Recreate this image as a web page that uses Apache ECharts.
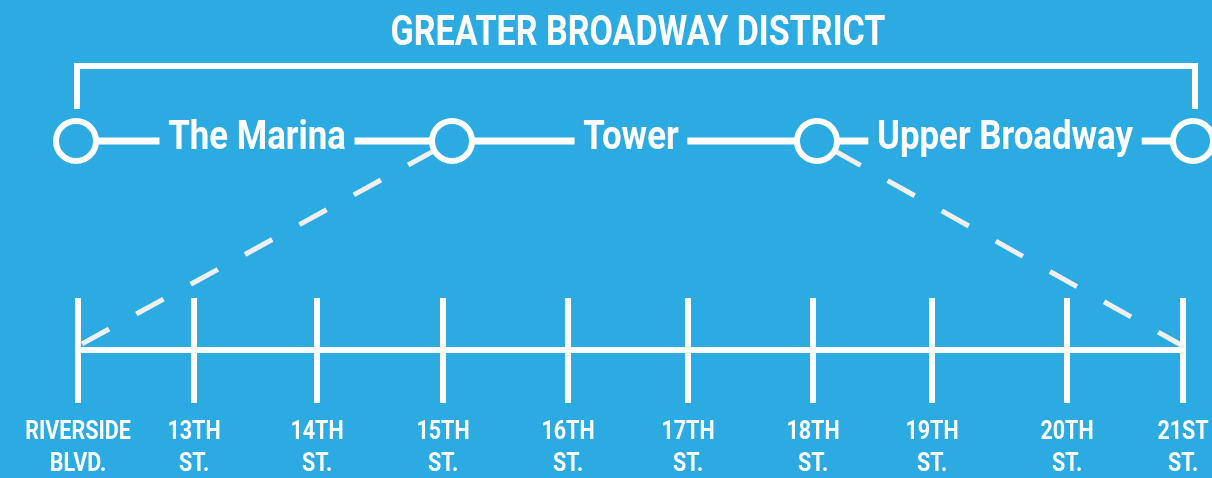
<!DOCTYPE html>
<html>
<head>
<meta charset="utf-8">
<title>Greater Broadway District</title>
<script src="https://cdn.jsdelivr.net/npm/echarts@6/dist/echarts.min.js"></script>
<style>
  html, body { margin: 0; padding: 0; background: #2babe2; }
  #chart { width: 1212px; height: 478px; }
</style>
</head>
<body>
<div id="chart"></div>
<script>
// streets along the bottom timeline, with their position along the street
const streetNames = ['RIVERSIDE\nBLVD.', '13TH\nST.', '14TH\nST.', '15TH\nST.', '16TH\nST.',
  '17TH\nST.', '18TH\nST.', '19TH\nST.', '20TH\nST.', '21ST\nST.'];
const streetPos = [78, 194, 317, 443, 568, 688, 813, 932, 1067, 1183];

// district boundaries (stations) and district names on the upper route
const stationPos = [76, 452, 817, 1193];
const districtNames = ['The Marina', 'Tower', 'Upper Broadway'];
const districtPos = [257, 631, 1005];

// which boundary station maps to which street (dashed connectors)
const connectors = [[1, 0], [2, 9]];

const BG = '#2babe2';
const FONT = 'Roboto, "Open Sans", sans-serif';

// vertical levels of the drawing
const titleY = 34;
const bracketY = 66;
const bracketFootY = 109;
const routeY = 141;
const streetY = 350;
const connectorEndY = 346;
const labelY = 449;

const chart = echarts.init(document.getElementById('chart'));

// text drawn narrower than the font, the original uses a condensed face
const textSeries = (data, fontSize, squeeze, extra) => ({
  type: 'custom',
  data: data,
  renderItem: function (params, api) {
    const p = api.coord([api.value(0), api.value(1)]);
    return {
      type: 'text',
      x: p[0],
      y: p[1],
      scaleX: squeeze,
      style: Object.assign({
        text: data[params.dataIndex].name,
        fill: '#fff',
        fontFamily: FONT,
        fontWeight: 'bold',
        fontSize: fontSize,
        align: 'center',
        verticalAlign: 'middle'
      }, extra)
    };
  },
  silent: true,
  z: 5
});

const option = {
  backgroundColor: BG,
  animation: false,
  grid: { left: 0, right: 0, top: 0, bottom: 0 },
  xAxis: { type: 'value', min: 0, max: 1212, show: false },
  yAxis: { type: 'value', min: 0, max: 478, inverse: true, show: false },
  series: [
    textSeries([{ value: [638, titleY], name: 'GREATER BROADWAY DISTRICT' }], 42, 0.81, {}),
    {
      // bracket over all districts
      type: 'line',
      data: [[stationPos[0] + 1, bracketFootY], [stationPos[0] + 1, bracketY],
        [stationPos[3] + 2, bracketY], [stationPos[3] + 2, bracketFootY]],
      showSymbol: false,
      lineStyle: { color: '#fff', width: 6, cap: 'butt', join: 'miter' },
      silent: true,
      z: 2
    },
    {
      // route through stations
      type: 'line',
      data: [[stationPos[0], routeY], [stationPos[3], routeY]],
      showSymbol: false,
      lineStyle: { color: '#fff', width: 7 },
      silent: true,
      z: 2
    },
    {
      // dashed connectors from stations to streets
      type: 'lines',
      coordinateSystem: 'cartesian2d',
      data: connectors.map(([s, t]) => ({
        coords: [[stationPos[s], routeY], [streetPos[t], connectorEndY]]
      })),
      lineStyle: { color: '#f0f0f0', width: 5, type: [31, 31], dashOffset: 43, opacity: 1, curveness: 0 },
      silent: true,
      z: 3
    },
    {
      // timeline
      type: 'line',
      data: [[streetPos[0], streetY], [streetPos[streetPos.length - 1], streetY]],
      showSymbol: false,
      lineStyle: { color: '#fff', width: 6 },
      silent: true,
      z: 2
    },
    {
      // street ticks
      type: 'custom',
      data: streetPos.map(x => [x, streetY]),
      renderItem: function (params, api) {
        const x = api.value(0);
        const p1 = api.coord([x, streetY - 52]);
        const p2 = api.coord([x, streetY + 53]);
        return {
          type: 'line',
          shape: { x1: p1[0], y1: p1[1], x2: p2[0], y2: p2[1] },
          style: { stroke: '#fff', lineWidth: 6 }
        };
      },
      silent: true,
      z: 4
    },
    // street labels
    textSeries(streetPos.map((x, i) => ({ value: [x, labelY], name: streetNames[i] })), 25, 0.86,
      { lineHeight: 32 }),
    // district names, masking the route behind them
    textSeries(districtPos.map((x, i) => ({ value: [x, routeY - 2], name: districtNames[i] })), 40, 0.87,
      { backgroundColor: BG, padding: [2, 10] }),
    {
      // stations
      type: 'scatter',
      data: stationPos.map(x => [x, routeY]),
      symbol: 'circle',
      symbolSize: 40,
      itemStyle: { color: BG, borderColor: '#fff', borderWidth: 6, opacity: 1 },
      silent: true,
      z: 6
    }
  ]
};

chart.setOption(option);
</script>
</body>
</html>
